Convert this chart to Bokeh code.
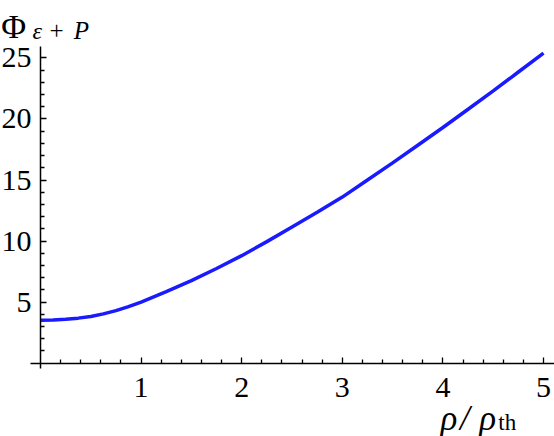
from bokeh.plotting import figure
from bokeh.models import Range1d, LinearAxis, FixedTicker, Label
from bokeh.embed import file_html
from bokeh.resources import INLINE

# data
rho = [0.0, 0.125, 0.25, 0.375, 0.5, 0.625, 0.75, 0.875, 1.0, 1.25, 1.5,
       1.75, 2.0, 2.25, 2.5, 2.75, 3.0, 3.25, 3.5, 3.75, 4.0, 4.25, 4.5,
       4.75, 5.0]
phi = [3.50, 3.52, 3.58, 3.68, 3.82, 4.03, 4.30, 4.63, 5.00, 5.85, 6.75,
       7.75, 8.80, 9.95, 11.15, 12.35, 13.60, 15.00, 16.40, 17.85, 19.30,
       20.80, 22.30, 23.85, 25.40]

x_major = [1, 2, 3, 4, 5]
x_minor = [0.2, 0.4, 0.6, 0.8, 1.2, 1.4, 1.6, 1.8, 2.2, 2.4, 2.6, 2.8,
           3.2, 3.4, 3.6, 3.8, 4.2, 4.4, 4.6, 4.8]
y_major = [5, 10, 15, 20, 25]
y_minor = [1, 2, 3, 4, 6, 7, 8, 9, 11, 12, 13, 14, 16, 17, 18, 19, 21, 22, 23, 24]

SERIF = "Liberation Serif"

p = figure(width=554, height=436, output_backend="svg", toolbar_location=None,
           x_range=Range1d(-0.3976, 5.109), y_range=Range1d(-6.02, 29.71),
           x_axis_type=None, y_axis_type=None,
           min_border_left=0, min_border_right=0,
           min_border_top=0, min_border_bottom=0)
p.outline_line_color = None
p.background_fill_color = "white"
p.border_fill_color = "white"


def style_axis(ax):
    ax.axis_line_color = "black"
    ax.axis_line_width = 1.5
    ax.major_tick_in = 6
    ax.major_tick_out = 0
    ax.minor_tick_in = 4
    ax.minor_tick_out = 0
    ax.major_tick_line_width = 1.3
    ax.minor_tick_line_width = 1.3
    ax.major_tick_line_color = "black"
    ax.minor_tick_line_color = "black"
    ax.major_label_text_font = SERIF
    ax.major_label_text_font_size = "30px"
    ax.major_label_text_color = "black"


xaxis = LinearAxis(fixed_location=0, bounds=(-0.1, 5.109),
                   ticker=FixedTicker(ticks=x_major, minor_ticks=x_minor))
style_axis(xaxis)
xaxis.major_label_standoff = 15
p.add_layout(xaxis, "below")

yaxis = LinearAxis(fixed_location=0, bounds=(-0.45, 25.9),
                   ticker=FixedTicker(ticks=y_major, minor_ticks=y_minor))
style_axis(yaxis)
yaxis.major_label_standoff = 9
p.add_layout(yaxis, "left")

p.line(rho, phi, line_color="#1a1aff", line_width=3.5)


def title_part(x, y, text, size, italic):
    p.add_layout(Label(x=x, y=y, text=text, text_font=SERIF,
                       text_font_style="italic" if italic else "normal",
                       text_font_size=size, text_baseline="alphabetic",
                       text_color="black"))


# y-axis title  Φ_{ε+P}
title_part(-0.39, 27.6, "Φ", "34px", False)
title_part(-0.0795, 27.25, "ε", "24px", True)
title_part(0.09, 27.25, "+", "25px", False)
title_part(0.33, 27.25, "P", "25px", True)

# x-axis title  ρ/ρ_th
title_part(3.976, -4.55, "ρ", "35px", True)
title_part(4.17, -4.55, "/", "35px", True)
title_part(4.36, -4.55, "ρ", "35px", True)
title_part(4.55, -4.9, "th", "23px", False)

open("out.html", "w").write(file_html(p, INLINE))
